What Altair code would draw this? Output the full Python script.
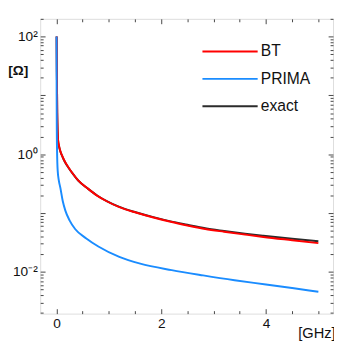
import altair as alt
import pandas as pd

# ---- data ----
exact_x = [0.004, 0.008, 0.015, 0.03, 0.05, 0.074, 0.1, 0.136, 0.18, 0.23, 0.3, 0.415, 0.6, 0.79, 0.97,
           1.19, 1.53, 1.85, 2.18, 2.5, 2.84, 3.2, 3.6, 3.95, 4.5, 5.0]
exact_y = [100, 25, 5.0, 1.75, 1.35, 1.12, 0.97, 0.82, 0.69, 0.59, 0.48, 0.357, 0.26, 0.195, 0.158,
           0.128, 0.102, 0.085, 0.072, 0.063, 0.055, 0.0495, 0.0445, 0.041, 0.0365, 0.0332]
bt_x = [0.004, 0.008, 0.015, 0.03, 0.05, 0.074, 0.1, 0.136, 0.18, 0.23, 0.3, 0.415, 0.6, 0.79, 0.97,
        1.19, 1.53, 1.85, 2.18, 2.5, 2.84, 3.2, 3.6, 3.95, 4.5, 5.0]
bt_y = [100, 25, 5.0, 1.78, 1.37, 1.13, 0.98, 0.83, 0.70, 0.595, 0.483, 0.358, 0.26, 0.194, 0.157,
        0.127, 0.101, 0.084, 0.071, 0.0615, 0.0535, 0.048, 0.043, 0.0392, 0.0345, 0.0308]
prima_x = [0.002, 0.004, 0.007, 0.012, 0.024, 0.045, 0.074, 0.12, 0.17, 0.25, 0.36, 0.57, 0.8, 1.2,
           1.6, 2.2, 2.8, 3.4, 4.0, 4.5, 5.0]
prima_y = [100, 10, 2.5, 1.1, 0.52, 0.36, 0.27, 0.16, 0.11, 0.075, 0.053, 0.037, 0.027, 0.018,
           0.0138, 0.0107, 0.0087, 0.0072, 0.0061, 0.0053, 0.0046]

series_names = ["BT", "PRIMA", "exact"]
series_colors = ["#ff0000", "#1a8cff", "#2b2b2b"]

x_domain = [-0.31, 5.28]
y_domain = [0.00195, 200]
x_label_values = [0, 2, 4]
y_label_values = [0.01, 1, 100]
x_tick_values = [0, 0.5, 1, 1.5, 2, 2.5, 3, 3.5, 4, 4.5, 5]
y_tick_values = [m * 10.0 ** e for e in range(-3, 3) for m in range(1, 10)
                 if y_domain[0] <= m * 10.0 ** e <= y_domain[1]]

rows = []
for name, xs, ys in [("exact", exact_x, exact_y), ("BT", bt_x, bt_y), ("PRIMA", prima_x, prima_y)]:
    for a, b in zip(xs, ys):
        rows.append({"series": name, "f": a, "z": b})
df = pd.DataFrame(rows)

FONT = "Liberation Sans"
W, H = 300, 302
FRAME = "#444444"

x_scale = alt.Scale(domain=x_domain, nice=False, zero=False)
y_scale = alt.Scale(type="log", domain=y_domain, nice=False)

x_label_axis = alt.Axis(values=x_label_values, ticks=False, domain=False, grid=False,
                        labelFont=FONT, labelFontSize=14, labelPadding=3, labelColor="#111",
                        title="[GHz]", titleFont=FONT, titleFontSize=15, titleFontWeight="normal",
                        titleColor="#111", titleX=283, titleY=24, titleAlign="center",
                        titleBaseline="alphabetic")
y_label_axis = alt.Axis(values=y_label_values, ticks=False, domain=False, grid=False,
                        labelFont=FONT, labelFontSize=14, labelPadding=3, labelColor="#111",
                        labelExpr="datum.value > 10 ? '10²' : (datum.value > 0.5 ? '10⁰' : '10⁻²')",
                        title="[Ω]", titleFont=FONT, titleFontSize=14, titleFontWeight="bold",
                        titleColor="#111", titleAngle=0, titleX=-23, titleY=53,
                        titleAlign="center", titleBaseline="middle")

color = alt.Color("series:N",
                  scale=alt.Scale(domain=series_names, range=series_colors),
                  legend=alt.Legend(title=None, orient="none", legendX=179, legendY=18,
                                    symbolType="M-2,0L2,0", symbolSize=800, symbolStrokeWidth=2,
                                    labelFont=FONT, labelFontSize=16, labelColor="#111",
                                    labelOffset=16, rowPadding=4, padding=0))


def line_layer(name):
    return alt.Chart(df).transform_filter(alt.datum.series == name).mark_line(
        strokeWidth=2, clip=True, interpolate="monotone"
    ).encode(
        x=alt.X("f:Q", scale=x_scale, axis=x_label_axis),
        y=alt.Y("z:Q", scale=y_scale, axis=y_label_axis),
        color=color,
    )


lines = alt.layer(line_layer("exact"), line_layer("BT"), line_layer("PRIMA"))

y_major = "abs(log(datum.value)/LN10 - round(log(datum.value)/LN10)) < 0.001"
x_major = "abs(datum.value/2 - round(datum.value/2)) < 0.001"


def tick_axis(orient, offset, values, major_test):
    return alt.Axis(orient=orient, offset=offset, values=values, labels=False, domain=False,
                    grid=False, title=None, tickColor=FRAME, tickWidth=1,
                    tickSize={"condition": {"test": major_test, "value": 5}, "value": 3})


def ghost(xo, yo):
    return alt.Chart(df).mark_line(strokeOpacity=0).encode(
        x=alt.X("f:Q", scale=x_scale, axis=tick_axis(xo, -H, x_tick_values, x_major)),
        y=alt.Y("z:Q", scale=y_scale, axis=tick_axis(yo, -W, y_tick_values, y_major)),
    )


chart = alt.layer(lines, ghost("top", "right"), ghost("bottom", "left")).resolve_scale(
    x="independent", y="independent"
).properties(
    width=W, height=H,
    autosize=alt.AutoSizeParams(type="none"),
    padding={"left": 33, "top": 7, "right": 1, "bottom": 26},
).configure_view(stroke=FRAME, strokeWidth=1).configure(background="white")

chart.save("out.html", embed_options={"renderer": "svg", "actions": False})
